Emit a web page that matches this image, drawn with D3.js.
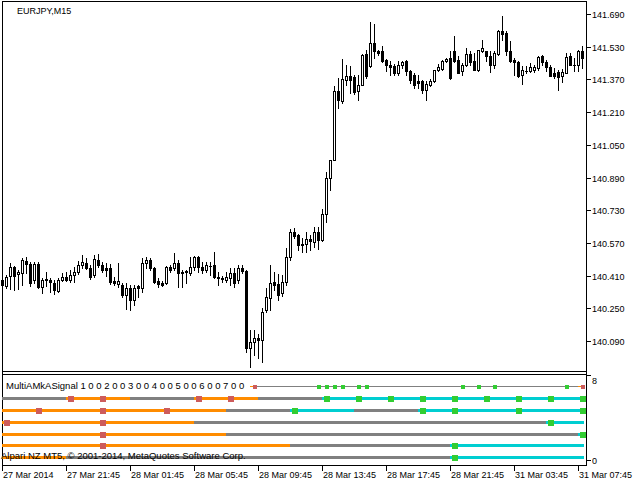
<!DOCTYPE html>
<html><head><meta charset="utf-8">
<script src="https://cdn.jsdelivr.net/npm/d3@7"></script>
<style>
html,body{margin:0;padding:0;background:#fff;}
svg{display:block;}
text{font-family:"Liberation Sans",Arial,sans-serif;fill:#000;}
</style>
</head><body>
<svg id="c" width="638" height="485"></svg>
<script>
// ---------------- DATA ----------------
const chartTitle = "EURJPY,M15";
const indicatorTitle = "MultiAMkASignal 1 0 0 2 0 0 3 0 0 4 0 0 5 0 0 6 0 0 7 0 0";
const copyrightText = "Alpari NZ MT5, \u00A9 2001-2014, MetaQuotes Software Corp.";

const open = [
140.388,140.359,140.408,140.452,140.418,140.423,140.481,140.467,140.388,140.467,
140.354,140.388,140.388,140.374,140.334,140.388,140.403,140.388,140.413,140.427,
140.462,140.471,140.447,140.413,140.486,140.462,140.447,140.447,140.383,140.369,
140.364,140.315,140.349,140.290,140.359,140.349,140.471,140.486,140.447,140.383,
140.374,140.374,140.452,140.447,140.471,140.427,140.427,140.423,140.452,140.501,
140.452,140.437,140.457,140.462,140.403,140.398,140.388,140.398,140.423,140.388,
140.447,140.432,140.056,140.085,140.105,140.095,140.242,140.300,140.378,140.369,
140.325,140.378,140.501,140.623,140.608,140.564,140.564,140.589,140.574,140.623,
140.584,140.711,140.887,140.975,141.313,141.264,141.367,141.386,141.381,141.313,
141.342,141.494,141.435,141.548,141.508,141.508,141.464,141.440,141.435,141.401,
141.440,141.460,141.411,141.391,141.362,141.362,141.318,141.342,141.362,141.416,
141.420,141.460,141.474,141.508,141.464,141.411,141.440,141.494,141.460,141.416,
141.508,141.508,141.484,141.440,141.494,141.606,141.597,141.508,141.464,141.455,
141.391,141.411,141.411,141.416,141.425,141.484,141.455,141.430,141.401,141.406,
141.386,141.401,141.484,141.440,141.440,141.508];
const high = [
140.393,140.413,140.471,140.457,140.437,140.496,140.501,140.476,140.476,140.476,
140.398,140.427,140.398,140.388,140.398,140.423,140.427,140.437,140.452,140.481,
140.511,140.496,140.462,140.511,140.515,140.476,140.471,140.467,140.403,140.471,
140.374,140.374,140.364,140.364,140.364,140.496,140.501,140.496,140.452,140.398,
140.383,140.457,140.462,140.520,140.486,140.437,140.437,140.501,140.506,140.506,
140.476,140.476,140.476,140.525,140.427,140.408,140.427,140.447,140.447,140.462,
140.462,140.437,140.144,140.144,140.124,140.251,140.349,140.462,140.427,140.418,
140.413,140.545,140.638,140.643,140.613,140.594,140.623,140.608,140.648,140.648,
140.736,140.917,140.975,141.337,141.376,141.469,141.440,141.435,141.391,141.391,
141.494,141.513,141.650,141.641,141.513,141.533,141.469,141.460,141.445,141.460,
141.460,141.464,141.416,141.401,141.391,141.367,141.362,141.372,141.416,141.445,
141.464,141.474,141.508,141.582,141.484,141.450,141.523,141.508,141.499,141.513,
141.562,141.508,141.508,141.508,141.611,141.680,141.606,141.557,141.474,141.460,
141.435,141.435,141.450,141.440,141.484,141.489,141.464,141.440,141.425,141.416,
141.420,141.499,141.499,141.474,141.513,141.533];
const low = [
140.354,140.349,140.344,140.339,140.344,140.364,140.423,140.359,140.374,140.349,
140.325,140.359,140.329,140.320,140.329,140.383,140.383,140.378,140.378,140.418,
140.447,140.442,140.393,140.403,140.452,140.427,140.408,140.369,140.364,140.354,
140.305,140.246,140.242,140.266,140.305,140.329,140.447,140.437,140.374,140.354,
140.359,140.369,140.427,140.437,140.354,140.354,140.374,140.413,140.437,140.427,
140.423,140.427,140.413,140.398,140.364,140.378,140.378,140.364,140.354,140.374,
140.423,140.036,139.963,140.021,140.007,139.987,140.232,140.242,140.339,140.290,
140.310,140.364,140.486,140.594,140.535,140.525,140.525,140.535,140.550,140.540,
140.579,140.672,140.829,140.975,141.230,141.254,141.342,141.303,141.298,141.269,
141.342,141.376,141.430,141.474,141.489,141.455,141.411,141.391,141.391,141.391,
141.425,141.391,141.352,141.328,141.328,141.303,141.269,141.337,141.357,141.411,
141.416,141.455,141.372,141.455,141.401,141.391,141.435,141.440,141.416,141.411,
141.504,141.460,141.406,141.425,141.489,141.562,141.489,141.455,141.391,141.381,
141.347,141.401,141.406,141.406,141.416,141.440,141.411,141.386,141.376,141.318,
141.357,141.401,141.440,141.411,141.411,141.425];
const close = [
140.364,140.403,140.452,140.408,140.427,140.486,140.467,140.374,140.467,140.354,
140.388,140.393,140.378,140.339,140.388,140.403,140.388,140.413,140.427,140.462,
140.476,140.447,140.403,140.491,140.462,140.437,140.437,140.378,140.374,140.383,
140.315,140.349,140.290,140.349,140.349,140.471,140.486,140.447,140.378,140.371,
140.364,140.452,140.437,140.471,140.423,140.425,140.432,140.452,140.501,140.452,
140.437,140.462,140.459,140.403,140.396,140.391,140.403,140.423,140.374,140.447,
140.432,140.056,140.085,140.105,140.095,140.232,140.305,140.374,140.364,140.315,
140.378,140.501,140.623,140.603,140.560,140.562,140.589,140.577,140.623,140.584,
140.711,140.887,140.975,141.313,141.269,141.372,141.386,141.367,141.308,141.342,
141.489,141.386,141.548,141.508,141.499,141.460,141.440,141.433,141.401,141.440,
141.455,141.411,141.367,141.342,141.352,141.318,141.347,141.362,141.416,141.430,
141.460,141.469,141.376,141.460,141.401,141.440,141.494,141.455,141.416,141.513,
141.523,141.484,141.440,141.499,141.606,141.592,141.508,141.460,141.457,141.386,
141.416,141.413,141.430,141.430,141.479,141.455,141.430,141.386,141.389,141.381,
141.406,141.479,141.440,141.442,141.508,141.474];

const priceTicks = [141.690,141.530,141.370,141.210,141.050,140.890,140.730,140.570,140.410,140.250,140.090];
const timeTickBars = [0,16,32,48,64,80,96,112,128,144];
const timeTickLabels = ["27 Mar 2014","27 Mar 21:45","28 Mar 01:45","28 Mar 05:45","28 Mar 09:45",
  "28 Mar 13:45","28 Mar 17:45","28 Mar 21:45","31 Mar 03:45","31 Mar 07:45"];

const subTicks = [8, 0];
// indicator rows: level on the subwindow scale
const rowLevels = [7.0, 5.85, 4.7, 3.55, 2.45, 1.35, 0.2];
// segments: [fromBar, toBar, state]
const rowSegments = [
  [[62,63,"dn"],[63,144,"flat"],[144,145,"dn"]],
  [[0,16,"flat"],[16,32,"dn"],[32,48,"flat"],[48,64,"dn"],[64,80,"flat"],[80,145.2,"up"]],
  [[0,56,"dn"],[56,72,"flat"],[72,88,"up"],[88,104,"flat"],[104,145.2,"up"]],
  [[0,48,"dn"],[48,136,"flat"],[136,145.2,"up"]],
  [[0,56,"dn"],[56,144,"flat"],[144,145.2,"up"]],
  [[0,72,"dn"],[72,112,"flat"],[112,145.2,"up"]],
  [[0,16,"dn"],[16,112,"flat"],[112,145.2,"up"]]
];
// markers: [bar, state]
const rowMarkers = [
  [[63,"dn"],[79,"up"],[81,"up"],[83,"up"],[85,"up"],[89,"up"],[91,"up"],[115,"up"],[119,"up"],[123,"up"],[141,"up"],[145,"dn"]],
  [[17,"dn"],[25,"dn"],[49,"dn"],[57,"dn"],[81,"up"],[89,"up"],[97,"up"],[105,"up"],[113,"up"],[121,"up"],[129,"up"],[137,"up"],[145,"up"]],
  [[9,"dn"],[25,"dn"],[41,"dn"],[73,"up"],[105,"up"],[113,"up"],[129,"up"],[145,"up"]],
  [[1,"dn"],[25,"dn"],[137,"up"]],
  [[25,"dn"],[145,"up"]],
  [[25,"dn"],[113,"up"]],
  [[113,"up"]]
];

// ---------------- STYLE ----------------
const lineColor = {dn:"#FF8C00", flat:"#808080", up:"#00CED1"};
const markColor = {dn:"#CD5C5C", up:"#32CD32"};
const FS = 9;

// ---------------- DRAW ----------------
const svg = d3.select("#c");
const n = Math.min(open.length, high.length, low.length, close.length);

const x = d3.scaleLinear().domain([0, 145]).range([2, 582]);
const y = d3.scaleLinear().domain([140.090, 141.690]).range([341, 14]);
const ys = d3.scaleLinear().domain([0, 8]).range([459.5, 375]);

const g = svg.append("g").attr("shape-rendering","crispEdges");

// frame
const L = 2.5, R = 586.5, T = 1.5, MB = 371.5, ST = 374.5, SB = 465.5;
g.append("path").attr("fill","none").attr("stroke","#000")
 .attr("d", `M${L},${T}H${R}V${SB}H${L}Z M${L},${MB}H${R} M${L},${ST}H${R}`);

// candles
const cg = g.append("g");
for (let i = 0; i < n; i++) {
  const cx = Math.round(x(i));
  const yh = Math.round(y(high[i])), yl = Math.round(y(low[i]));
  const yo = Math.round(y(open[i])), yc = Math.round(y(close[i]));
  const top = Math.min(yo, yc), bot = Math.max(yo, yc);
  cg.append("line").attr("x1", cx+0.5).attr("x2", cx+0.5)
    .attr("y1", yh).attr("y2", yl+1).attr("stroke","#000");
  if (close[i] >= open[i]) {
    if (bot - top < 1) {
      cg.append("rect").attr("x", cx-1).attr("y", top).attr("width",3).attr("height",1).attr("fill","#000");
    } else {
      cg.append("rect").attr("x", cx-0.5).attr("y", top+0.5).attr("width",2).attr("height", bot-top)
        .attr("fill","#fff").attr("stroke","#000");
    }
  } else {
    cg.append("rect").attr("x", cx-1).attr("y", top).attr("width",3).attr("height", bot-top+1).attr("fill","#000");
  }
}

// price axis
priceTicks.forEach(v => {
  const yy = Math.round(y(v)) + 0.5;
  g.append("line").attr("x1",586).attr("x2",591).attr("y1",yy).attr("y2",yy).attr("stroke","#000");
  svg.append("text").attr("x",592).attr("y",yy+3.5).attr("font-size",FS).text(v.toFixed(3));
});

// subwindow axis
subTicks.forEach(v => {
  const yy = Math.round(ys(v)) + 0.5;
  g.append("line").attr("x1",586).attr("x2",591).attr("y1",yy).attr("y2",yy).attr("stroke","#000");
  svg.append("text").attr("x",592).attr("y", v === 8 ? yy+8 : yy+3.5).attr("font-size",FS).text(v);
});

// time axis
timeTickBars.forEach((b, k) => {
  const xx = Math.round(x(b)) + 0.5;
  g.append("line").attr("x1",xx).attr("x2",xx).attr("y1",466).attr("y2",471).attr("stroke","#000");
  svg.append("text").attr("x", xx+0.5).attr("y",478).attr("font-size",FS).text(timeTickLabels[k]);
});

// indicator rows
rowLevels.forEach((lv, r) => {
  const yy = Math.round(ys(lv));
  const w = r === 0 ? 1 : 3;
  rowSegments[r].forEach(s => {
    g.append("line").attr("x1", x(s[0])).attr("x2", x(s[1])+1)
      .attr("y1", yy + (w===1?0.5:0.5)).attr("y2", yy + 0.5)
      .attr("stroke", lineColor[s[2]]).attr("stroke-width", w);
  });
});
rowLevels.forEach((lv, r) => {
  const yy = Math.round(ys(lv));
  const sz = r === 0 ? 4 : 6;
  rowMarkers[r].forEach(m => {
    const cx = Math.round(x(m[0]));
    g.append("rect").attr("x", cx - sz/2 + 0.5).attr("y", yy - sz/2 + 0.5)
      .attr("width", sz).attr("height", sz).attr("fill", markColor[m[1]]);
  });
});

// texts
svg.append("text").attr("x",17).attr("y",13.5).attr("font-size",FS).text(chartTitle);
svg.append("text").attr("x",6).attr("y",388.5).attr("font-size",9.5).text(indicatorTitle);
svg.append("text").attr("x",1).attr("y",458.5).attr("font-size",9.5).text(copyrightText);
</script>
</body></html>
